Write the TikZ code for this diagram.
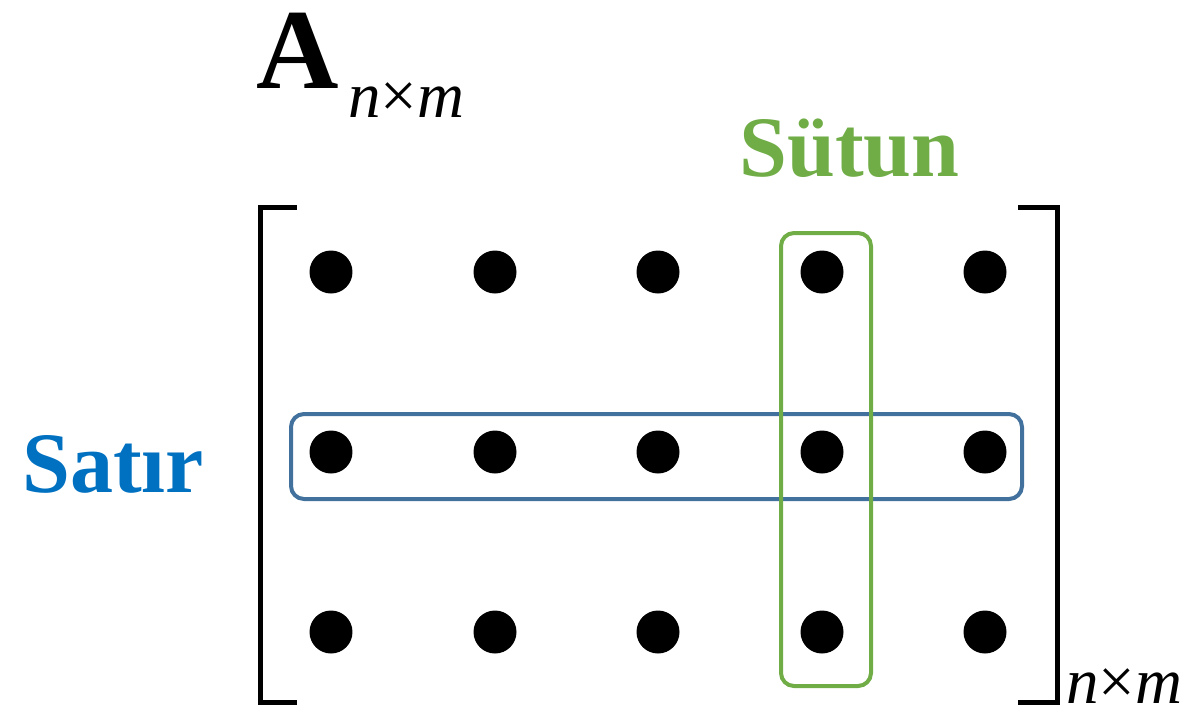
\documentclass[tikz,border=0pt]{standalone}
\usepackage{fontspec}
\setmainfont{Liberation Serif}
\definecolor{satirblue}{HTML}{0070C0}
\definecolor{boxblue}{HTML}{41719C}
\definecolor{sgreen}{HTML}{70AD47}
\begin{document}
\begin{tikzpicture}[x=0.02cm,y=-0.02cm,
  dot/.style={circle,fill=black,minimum size=0.86cm,inner sep=0pt},
  brk/.style={line width=5*0.569pt},
  selbox/.style={line width=4*0.569pt,rounded corners=0.26cm},
  lbl/.style={inner sep=0pt,anchor=base west,font=\bfseries\fontsize{49}{56}\selectfont},
  sub/.style={inner sep=0pt,anchor=base west,font=\fontsize{37}{44}\selectfont}]
\useasboundingbox (0,0) rectangle (1197,718);
% dots
\foreach \r/\y in {1/272,2/452,3/632}{
  \foreach \c/\x in {1/331,2/495,3/658,4/822,5/985}{
    \node[dot] (d\r\c) at (\x,\y) {};
  }
}
% brackets
\coordinate (lt) at (297,207);
\coordinate (lb) at (297,702);
\coordinate (rt) at (1018,207);
\coordinate (rb) at (1018,702);
\draw[brk] (lt) -- (260,207) -- (260,702) -- (lb);
\draw[brk] (rt) -- (1057,207) -- (1057,702) -- (rb);
% selection boxes
\draw[selbox,boxblue] (291,414) rectangle (1022,499);
\draw[selbox,sgreen] (781,233) rectangle (871,686);
% labels
\node[inner sep=0pt,anchor=base west,font=\bfseries\fontsize{65}{72}\selectfont] (A) at (256,88) {A};
\node[sub] (Asub) at (348,117) {\itshape n\upshape ×\itshape m};
\node[sub] (Bsub) at (1066,703) {\itshape n\upshape ×\itshape m};
\node[lbl,satirblue] (satir) at (22,492) {Satır};
\node[lbl,sgreen] (sutun) at (739,176) {Sütun};
\end{tikzpicture}
\end{document}
